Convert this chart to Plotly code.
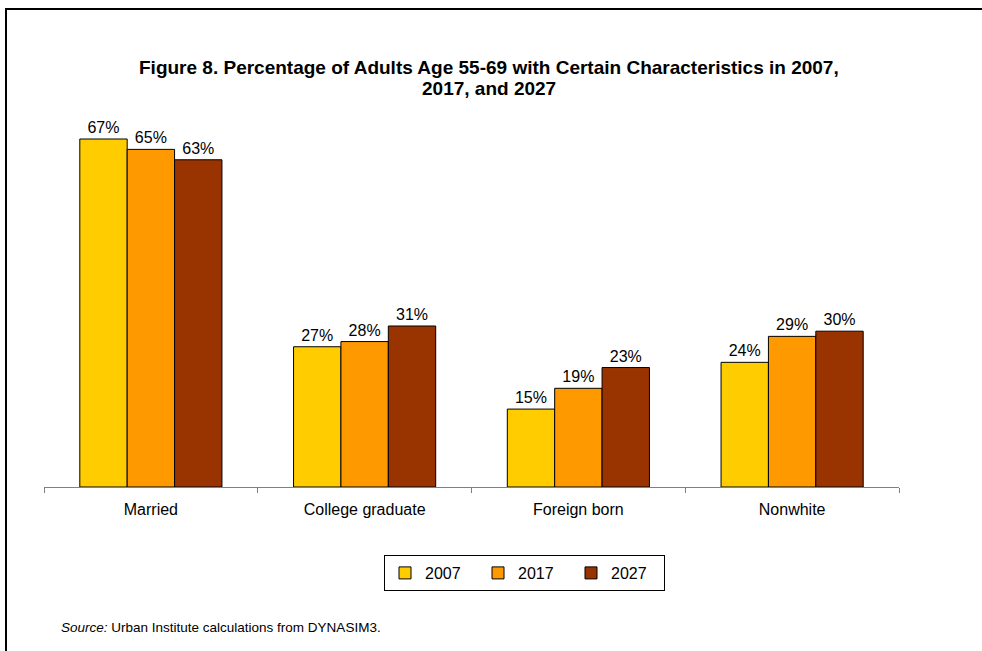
import plotly.graph_objects as go

categories = ["Married", "College graduate", "Foreign born", "Nonwhite"]
years = ["2007", "2017", "2027"]
values_2007 = [67, 27, 15, 24]
values_2017 = [65, 28, 19, 29]
values_2027 = [63, 31, 23, 30]
series_values = [values_2007, values_2017, values_2027]
colors = ["#FFCC00", "#FF9900", "#993300"]
title_lines = [
    "Figure 8. Percentage of Adults Age 55-69 with Certain Characteristics in 2007,",
    "2017, and 2027",
]
source_note = "<i>Source:</i> Urban Institute calculations from DYNASIM3."

W, H = 982, 651
L, R, T, B = 44, 83, 110, 164
plot_w = W - L - R
plot_h = H - T - B
px_per_pct = 348 / 67.0
y_max = plot_h / px_per_pct


def px_to_paper_x(px):
    return (px - L) / plot_w


def px_to_paper_y(py):
    return (H - B - py) / plot_h


font_family = "Liberation Sans, Arial, sans-serif"

fig = go.Figure()
for year, vals, col in zip(years, series_values, colors):
    fig.add_trace(go.Bar(
        x=categories,
        y=vals,
        name=year,
        marker=dict(color=col, line=dict(color="#000000", width=1)),
        text=[f"{v}%" for v in vals],
        textposition="outside",
        textfont=dict(size=16, color="#000000", family=font_family),
        cliponaxis=False,
    ))

annotations = []
for line, py in zip(title_lines, [67, 88]):
    annotations.append(dict(
        text=f"<b>{line}</b>", xref="paper", yref="paper",
        x=px_to_paper_x(489), y=px_to_paper_y(py),
        xanchor="center", yanchor="middle", showarrow=False,
        font=dict(size=19, family=font_family, color="#000000"),
    ))
annotations.append(dict(
    text=source_note, xref="paper", yref="paper",
    x=px_to_paper_x(59), y=px_to_paper_y(627),
    xanchor="left", yanchor="middle", showarrow=False,
    font=dict(size=13.5, family=font_family, color="#000000"),
))

fig.update_layout(
    width=W, height=H,
    margin=dict(l=L, r=R, t=T, b=B, autoexpand=False),
    paper_bgcolor="white",
    plot_bgcolor="white",
    barmode="group",
    bargap=0.335,
    bargroupgap=0,
    font=dict(family=font_family, size=16, color="#000000"),
    xaxis=dict(
        showline=True, linecolor="#808080", linewidth=1,
        ticks="outside", tickson="boundaries", ticklen=5, tickcolor="#808080",
        showgrid=False, zeroline=False,
        tickfont=dict(size=16, family=font_family),
        ticklabelstandoff=8,
    ),
    yaxis=dict(
        range=[0, y_max], visible=False, showgrid=False, zeroline=False,
    ),
    showlegend=True,
    legend=dict(
        orientation="h",
        x=px_to_paper_x(524.5), xanchor="center",
        y=px_to_paper_y(573), yanchor="middle",
        bordercolor="#000000", borderwidth=1,
        bgcolor="white",
        font=dict(size=16, family=font_family),
        entrywidth=48, entrywidthmode="pixels",
        itemwidth=30,
        tracegroupgap=0,
        traceorder="normal",
    ),
    shapes=[
        dict(type="rect", xref="paper", yref="paper",
             x0=px_to_paper_x(6), x1=px_to_paper_x(1000),
             y0=px_to_paper_y(670), y1=px_to_paper_y(9),
             line=dict(color="#000000", width=2), fillcolor="rgba(0,0,0,0)"),
    ],
    annotations=annotations,
)

fig.write_html("out.html")
